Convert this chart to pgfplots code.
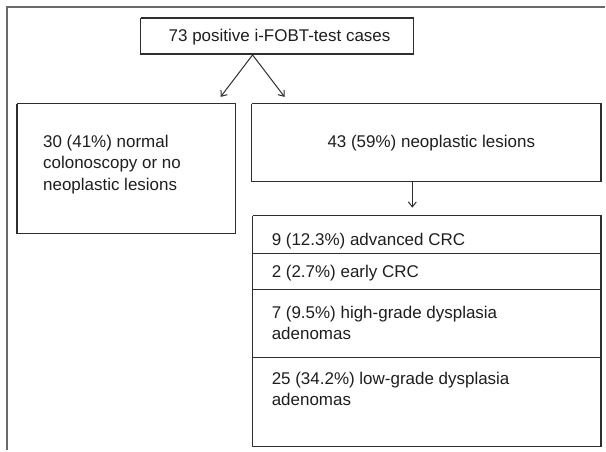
\documentclass[border=0pt]{standalone}
\usepackage{pgfplots}
\pgfplotsset{compat=1.18}
\usepackage{fontspec}
\setmainfont{Liberation Sans}
\usetikzlibrary{arrows.meta}
\definecolor{frame}{HTML}{6A6A6A}
\definecolor{boxc}{HTML}{2E2E2E}
\definecolor{txt}{HTML}{1E1E1E}
\tikzset{lbl/.style={font=\fontsize{17}{21}\selectfont, text=txt, inner sep=0pt}}
\begin{document}
\begin{tikzpicture}
\begin{axis}[
  width=606pt, height=451pt, scale only axis,
  xmin=0, xmax=606, ymin=0, ymax=451, y dir=reverse,
  hide axis, clip=false,
]
% invisible bounding
\addplot[draw=none] coordinates {(0,0) (606,451)};
% outer frame
\addplot[frame, line width=2pt] coordinates {(7,451) (7,7) (606,7)};
% top box
\addplot[boxc, line width=1.2pt] coordinates {(141,18) (414,18) (414,54) (141,54) (141,18)};
% left box
\addplot[boxc, line width=1.2pt] coordinates {(17,104) (236,104) (236,234) (17,234) (17,104)};
% right box
\addplot[boxc, line width=1.2pt] coordinates {(252,104) (602,104) (602,182) (252,182) (252,104)};
% bottom box
\addplot[boxc, line width=1.2pt] coordinates {(253,216) (602,216) (602,447) (253,447) (253,216)};
\addplot[boxc, line width=1.2pt] coordinates {(253,254) (602,254)};
\addplot[boxc, line width=1.2pt] coordinates {(253,290) (602,290)};
\addplot[boxc, line width=1.2pt] coordinates {(253,358) (602,358)};
% arrows
\addplot[boxc, line width=1pt, -{Straight Barb[length=5pt,width=8pt]}] coordinates {(253,55) (221,97)};
\addplot[boxc, line width=1pt, -{Straight Barb[length=5pt,width=8pt]}] coordinates {(253,55) (285,97)};
\addplot[boxc, line width=1pt, -{Straight Barb[length=5pt,width=8pt]}] coordinates {(413,182) (413,208)};
% texts
\node[lbl, anchor=base] at (axis cs:280,42) {73 positive i-FOBT-test cases};
\node[lbl, anchor=base west] at (axis cs:43,148) {30 (41\%) normal};
\node[lbl, anchor=base west] at (axis cs:43,169) {colonoscopy or no};
\node[lbl, anchor=base west] at (axis cs:43,191) {neoplastic lesions};
\node[lbl, anchor=base] at (axis cs:432,148) {43 (59\%) neoplastic lesions};
\node[lbl, anchor=base west] at (axis cs:272,246) {9 (12.3\%) advanced CRC};
\node[lbl, anchor=base west] at (axis cs:272,278) {2 (2.7\%) early CRC};
\node[lbl, anchor=base west] at (axis cs:272,319) {7 (9.5\%) high-grade dysplasia};
\node[lbl, anchor=base west] at (axis cs:272,340) {adenomas};
\node[lbl, anchor=base west] at (axis cs:272,385) {25 (34.2\%) low-grade dysplasia};
\node[lbl, anchor=base west] at (axis cs:272,406) {adenomas};
\end{axis}
\end{tikzpicture}
\end{document}
